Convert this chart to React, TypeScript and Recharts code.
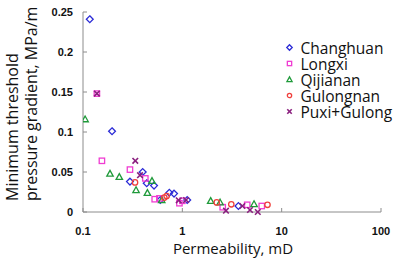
import React from 'react';
import { ScatterChart, Scatter, XAxis, YAxis, Legend } from 'recharts';

// ---- data ----
const xTicks = [0.1, 1, 10, 100];
const yTicks = [0, 0.05, 0.1, 0.15, 0.2, 0.25];

const seriesNames = ['Changhuan', 'Longxi', 'Qijianan', 'Gulongnan', 'Puxi+Gulong'];

const changhuanK = [0.117, 0.196, 0.297, 0.399, 0.438, 0.519, 0.6, 0.74, 0.825, 1.12, 3.67];
const changhuanG = [0.241, 0.101, 0.038, 0.05, 0.036, 0.033, 0.015, 0.024, 0.023, 0.015, 0.0075];

const longxiK = [0.138, 0.155, 0.297, 0.424, 0.527, 0.588, 0.935, 1.0, 2.55, 4.5, 6.3];
const longxiG = [0.148, 0.064, 0.053, 0.042, 0.016, 0.017, 0.011, 0.014, 0.006, 0.009, 0.0075];

const qijiananK = [0.105, 0.187, 0.232, 0.342, 0.445, 0.495, 0.62, 1.93, 2.4, 5.27];
const qijiananG = [0.116, 0.048, 0.044, 0.0275, 0.024, 0.039, 0.015, 0.014, 0.012, 0.01];

const gulongnanK = [0.334, 0.659, 0.695, 2.22, 3.11, 7.2];
const gulongnanG = [0.037, 0.018, 0.02, 0.012, 0.0096, 0.009];

const puxiK = [0.138, 0.336, 0.375, 0.92, 1.09, 2.75, 4.02, 4.8, 5.75];
const puxiG = [0.148, 0.064, 0.046, 0.0146, 0.015, 0.0016, 0.0075, 0.0025, 0.0];

const toPoints = (ks: number[], gs: number[]) => ks.map((k, i) => ({ k, g: gs[i] }));

const series = [
  { name: seriesNames[0], kind: 'diamond', color: '#2b2bd6', data: toPoints(changhuanK, changhuanG) },
  { name: seriesNames[1], kind: 'square', color: '#f03cd2', data: toPoints(longxiK, longxiG) },
  { name: seriesNames[2], kind: 'triangle', color: '#1f9a3a', data: toPoints(qijiananK, qijiananG) },
  { name: seriesNames[3], kind: 'circle', color: '#f0403c', data: toPoints(gulongnanK, gulongnanG) },
  { name: seriesNames[4], kind: 'x', color: '#8a1f7e', data: toPoints(puxiK, puxiG) },
];

function drawMarker(kind: string, color: string, cx: number, cy: number, s = 1) {
  const sw = 1.3;
  if (kind === 'diamond') {
    const r = 3.4 * s;
    return <polygon points={`${cx},${cy - r} ${cx + r},${cy} ${cx},${cy + r} ${cx - r},${cy}`} fill="none" stroke={color} strokeWidth={sw} />;
  }
  if (kind === 'square') {
    const h = 2.7 * s;
    return <rect x={cx - h} y={cy - h} width={2 * h} height={2 * h} fill="none" stroke={color} strokeWidth={sw} />;
  }
  if (kind === 'triangle') {
    const h = 3.2 * s;
    return <polygon points={`${cx},${cy - h} ${cx + h},${cy + h * 0.8} ${cx - h},${cy + h * 0.8}`} fill="none" stroke={color} strokeWidth={sw} />;
  }
  if (kind === 'circle') {
    return <circle cx={cx} cy={cy} r={2.7 * s} fill="none" stroke={color} strokeWidth={sw} />;
  }
  const h = 2.8 * s;
  return (
    <g stroke={color} strokeWidth={1.6}>
      <line x1={cx - h} y1={cy - h} x2={cx + h} y2={cy + h} />
      <line x1={cx - h} y1={cy + h} x2={cx + h} y2={cy - h} />
    </g>
  );
}

const tickStyle = { fill: '#111', fontWeight: 700, fontSize: 11, fontFamily: 'Liberation Sans, Arial, sans-serif' };

const renderLegend = () => (
  <svg width={118} height={86} style={{ display: 'block' }}>
    {series.map((s, i) => {
      const cy = 9.5 + i * 16;
      return (
        <g key={s.name}>
          {drawMarker(s.kind, s.color, 6.5, cy, 0.8)}
          <text x={17.5} y={cy} dominantBaseline="central" fontFamily="Open Sans" fontSize={15.5} fill="#111">
            {s.name}
          </text>
        </g>
      );
    })}
  </svg>
);

const renderYTitle = () => (
  <g fontFamily="Open Sans" fontSize={16} fill="#111">
    <text x={18} y={201} transform="rotate(-90, 18, 201)" textAnchor="start">Minimum threshold</text>
    <text x={37} y={201} transform="rotate(-90, 37, 201)" textAnchor="start">pressure gradient, MPa/m</text>
  </g>
);

const renderXTitle = () => (
  <text x={233} y={254} textAnchor="middle" fontFamily="Open Sans" fontSize={15} fill="#111">
    Permeability, mD
  </text>
);

export default function App() {
  return (
    <div style={{ position: 'absolute', left: 0, top: 0, width: 400, height: 261, background: '#fff' }}>
      <ScatterChart width={400} height={261} margin={{ top: 12, right: 19, bottom: 0, left: 0 }}>
        <XAxis
          dataKey="k"
          type="number"
          scale="log"
          domain={[0.1, 100]}
          ticks={xTicks}
          allowDataOverflow
          height={49}
          stroke="#8c8c8c"
          tickSize={-4}
          tickMargin={19}
          tick={tickStyle}
          tickFormatter={(v: number) => String(v)}
          label={{ content: renderXTitle }}
        />
        <YAxis
          dataKey="g"
          type="number"
          domain={[0, 0.25]}
          ticks={yTicks}
          width={83}
          stroke="#8c8c8c"
          tickSize={-4}
          tickMargin={14}
          tick={tickStyle}
          tickFormatter={(v: number) => String(v)}
          label={{ content: renderYTitle }}
        />
        <Legend
          layout="vertical"
          align="center"
          verticalAlign="middle"
          content={renderLegend}
          wrapperStyle={{ left: 283, top: 38, width: 118 }}
        />
        {series.map((s) => (
          <Scatter
            key={s.name}
            name={s.name}
            data={s.data}
            isAnimationActive={false}
            shape={(p: any) => drawMarker(s.kind, s.color, p.cx, p.cy)}
          />
        ))}
      </ScatterChart>
    </div>
  );
}
